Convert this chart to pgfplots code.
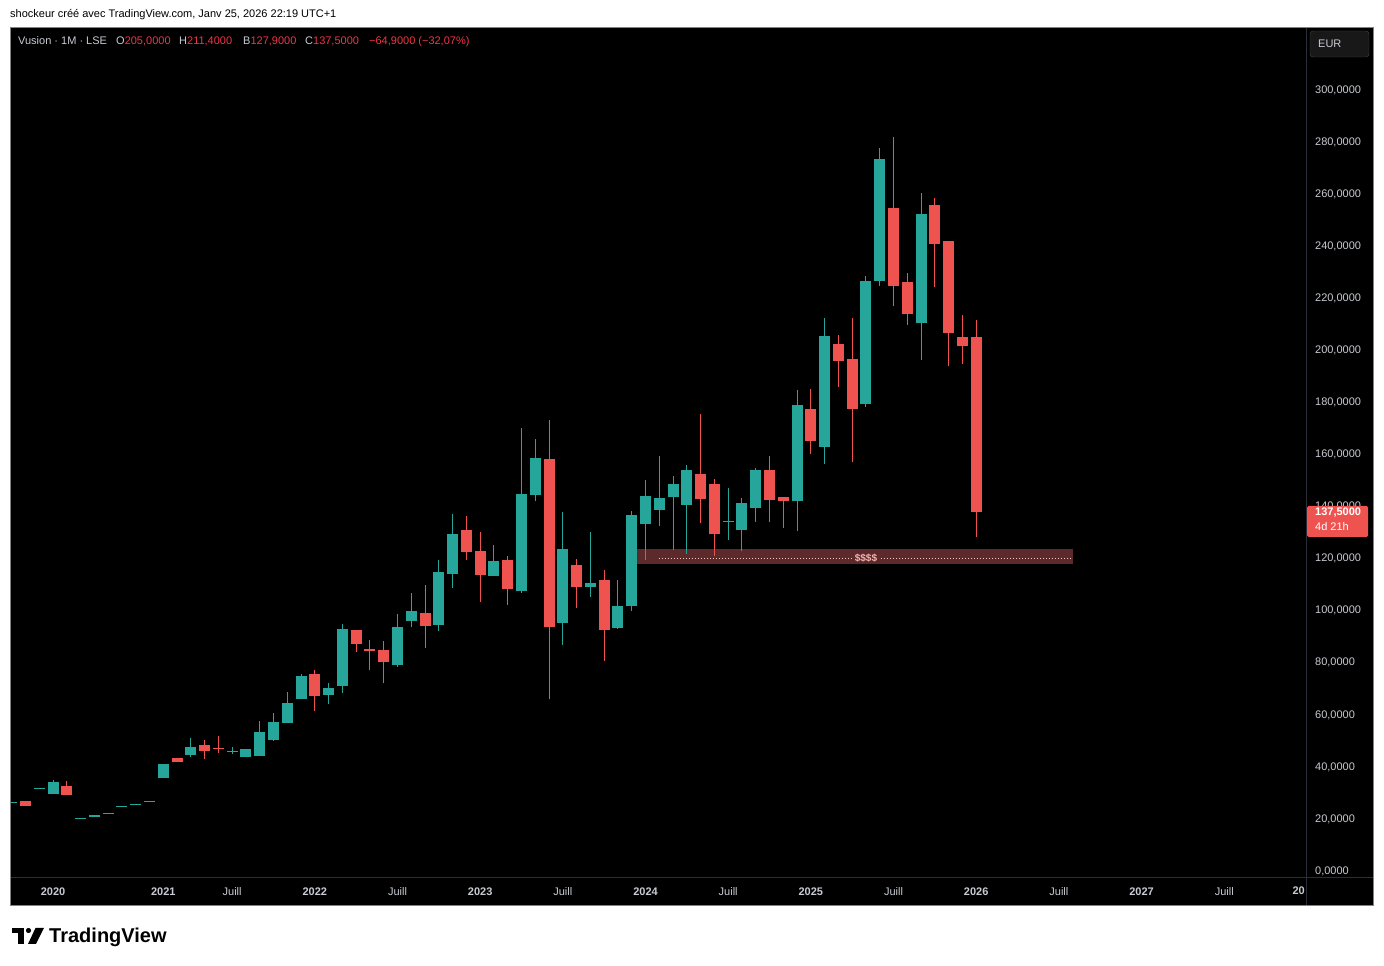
\documentclass[border=0pt]{standalone}
\usepackage{pgfplots}
\pgfplotsset{compat=1.18}
\usepackage{pgfplotstable}
\usepackage{fontspec}
\setmainfont{Liberation Sans}
\definecolor{tvgreen}{RGB}{38,166,154}
\definecolor{tvred}{RGB}{239,83,80}
\definecolor{hdrred}{RGB}{242,54,69}
\definecolor{axtext}{RGB}{200,203,210}
\definecolor{sepcol}{RGB}{42,46,57}
\definecolor{bandcol}{RGB}{92,42,42}
\definecolor{bandtext}{RGB}{245,180,180}
\definecolor{framecol}{RGB}{130,130,130}

\pgfplotstableread{
k o h l c
0 25.8 26.3 25.8 26.3
2 31.2 31.7 31.2 31.7
3 29.2 34.6 29.2 33.8
5 19.7 20.1 19.7 20.1
6 20.3 21.0 20.3 21.0
7 21.6 22.0 21.6 22.0
8 24.3 24.7 24.3 24.7
9 25.0 25.4 25.0 25.4
10 26.2 26.6 26.2 26.6
11 35.3 40.7 35.3 40.7
13 44.2 50.7 43.5 47.2
16 45.4 47.2 44.6 45.8
17 43.4 46.5 43.4 46.5
18 43.8 57.2 43.8 53.0
19 50.1 60.3 49.7 56.9
20 56.6 68.4 56.6 64.1
21 65.8 75.3 65.8 74.5
23 67.2 71.8 63.9 69.9
24 70.8 94.5 68.1 92.6
28 78.7 98.3 78.0 93.3
29 95.6 106.4 93.3 99.5
31 94.1 119.1 91.8 114.5
32 113.7 136.8 108.3 129.1
35 112.9 124.8 112.9 118.7
37 107.2 169.8 106.4 144.4
38 144.1 165.6 141.7 158.3
40 94.9 137.5 86.4 123.3
42 108.7 129.8 104.9 110.2
44 93.0 111.4 92.6 101.4
45 101.4 137.9 99.5 136.4
46 132.9 149.8 119.1 143.7
47 138.3 159.0 132.1 142.9
48 143.3 151.3 122.9 148.3
49 140.2 155.6 121.4 153.6
52 133.6 146.7 126.8 134.2
53 130.6 142.9 122.5 141.0
54 139.1 154.4 133.7 153.6
57 141.7 184.4 130.2 178.6
59 162.5 212.0 156.0 205.1
62 179.0 228.2 177.9 226.3
63 226.3 277.4 224.3 273.1
66 210.1 260.1 195.9 252.0
}\upT

\pgfplotstableread{
k o h l c
1 26.5 26.5 24.7 24.7
4 32.3 34.2 28.8 28.8
12 43.0 43.0 41.5 41.5
14 48.0 49.9 42.6 45.7
15 46.9 51.5 45.1 46.5
22 75.3 76.8 61.2 66.9
25 92.2 92.2 83.7 86.8
26 84.8 88.4 76.8 84.3
27 84.5 88.0 71.8 79.9
30 98.7 109.5 85.3 93.7
33 130.6 136.0 119.1 122.2
34 122.5 129.8 102.9 113.3
36 119.1 120.6 101.8 107.9
39 157.9 172.9 65.7 93.3
41 117.2 119.5 100.6 108.7
43 111.4 115.2 80.3 92.2
50 152.1 175.2 133.3 142.5
51 148.3 150.2 120.6 129.1
55 153.6 159.0 133.7 142.1
56 143.3 143.3 131.4 141.7
58 177.1 184.8 159.8 164.8
60 202.1 205.5 185.5 195.5
61 196.3 212.0 156.7 177.1
64 254.3 281.6 216.7 224.3
65 225.9 229.3 209.4 213.6
67 255.5 258.2 224.0 240.5
68 241.6 241.6 193.6 206.3
69 204.7 213.2 194.4 201.3
70 205.0 211.4 127.9 137.5
}\downT

\begin{document}
\begin{tikzpicture}[x=1pt,y=1pt]
% page
\fill[white] (0,0) rectangle (1384,966);
% header above chart
\node[anchor=base west, inner sep=0pt, font=\fontsize{11}{13}\selectfont, text=black] at (10,948) {shockeur créé avec TradingView.com, Janv 25, 2026 22:19 UTC+1};
% chart panel
\fill[black] (10,60) rectangle (1374,939);
\draw[sepcol, line width=1pt] (10,88) -- (1374,88);
\draw[sepcol, line width=1pt] (1306,60) -- (1306,939);

\begin{axis}[
  at={(11pt,88pt)}, anchor=south west,
  scale only axis, width=1295pt, height=850pt,
  xmin=-0.05, xmax=93.93, ymin=-3.07, ymax=323.6,
  axis line style={draw=none},
  tick style={draw=none},
  xtick={3,11,16,22,28,34,40,46,52,58,64,70,76,82,88},
  xticklabels={\textbf{2020},\textbf{2021},Juill,\textbf{2022},Juill,\textbf{2023},Juill,\textbf{2024},Juill,\textbf{2025},Juill,\textbf{2026},Juill,\textbf{2027},Juill},
  xticklabel style={anchor=center, inner sep=0pt, yshift=-14pt, font=\fontsize{11}{13}\selectfont, text=axtext},
  ytick={0,20,...,300},
  yticklabel pos=right,
  yticklabel style={anchor=west, inner sep=0pt, xshift=9pt, yshift=-1pt, font=\fontsize{11}{13}\selectfont, text=axtext,
    /pgf/number format/.cd, fixed, fixed zerofill, precision=4, use comma, 1000 sep={}, assume math mode=true},
  scaled y ticks=false,
  candle/.style={draw=none, mark=none, forget plot,
    error bars/y dir=plus, error bars/y explicit, error bars/error mark=none},
]
% zone
\fill[bandcol] (axis cs:45.38,117.5) rectangle (axis cs:77.02,123.3);
\draw[bandtext!80!white, line width=1pt, dash pattern=on 1pt off 2pt] (axis cs:46.97,119.85) -- (axis cs:76.87,119.85);
\node[fill=bandcol, inner sep=2pt, text=bandtext, font=\fontsize{10}{12}\selectfont\bfseries] at (axis cs:62.0,119.85) {\$\$\$\$};

% wicks
\addplot[candle, error bars/error bar style={line width=1pt, draw=tvgreen}]
  table[x=k, y=l, y error plus expr=\thisrow{h}-\thisrow{l}] {\upT};
\addplot[candle, error bars/error bar style={line width=1pt, draw=tvred}]
  table[x=k, y=l, y error plus expr=\thisrow{h}-\thisrow{l}] {\downT};
% bodies
\addplot[candle, error bars/error bar style={line width=11pt, draw=tvgreen}]
  table[x=k, y=o, y error plus expr=\thisrow{c}-\thisrow{o}] {\upT};
\addplot[candle, error bars/error bar style={line width=11pt, draw=tvred}]
  table[x=k, y=c, y error plus expr=\thisrow{o}-\thisrow{c}] {\downT};
\end{axis}

% clipped 2028 label
\node[anchor=east, inner sep=0pt, font=\fontsize{11}{13}\selectfont\bfseries, text=axtext] at (1305,75) {20};

% legend line in chart
\begin{scope}[every node/.style={anchor=base west, inner sep=0pt, font=\fontsize{11}{13}\selectfont, text=axtext}]
\node at (18,921) {Vusion · 1M · LSE};
\node at (116,921) {O\textcolor{hdrred}{205,0000}};
\node at (179,921) {H\textcolor{hdrred}{211,4000}};
\node at (243,921) {B\textcolor{hdrred}{127,9000}};
\node at (305,921) {C\textcolor{hdrred}{137,5000}};
\node[text=hdrred] at (369,921) {−64,9000 (−32,07\%)};
\end{scope}

% EUR button
\draw[fill={rgb,255:red,24;green,24;blue,24}, draw={rgb,255:red,70;green,70;blue,70}, rounded corners=3pt] (1310,909) rectangle (1369,935);
\node[anchor=west, inner sep=0pt, font=\fontsize{11}{13}\selectfont, text=axtext] at (1318,922) {EUR};

% last price label
\fill[tvred, rounded corners=1.5pt] (1307,429) rectangle (1368,460);
\node[anchor=west, inner sep=0pt, font=\fontsize{11}{13}\selectfont\bfseries, text=white] at (1315,453) {137,5000};
\node[anchor=west, inner sep=0pt, font=\fontsize{11}{13}\selectfont, text=white] at (1315,439) {4d 21h};

% frame
\draw[framecol, line width=1pt] (10.5,60.5) rectangle (1373.5,938.5);

% TradingView logo
\fill[black] (12,38) rectangle (24,33);
\fill[black] (18,33) rectangle (24,22);
\fill[black] (28.5,35.5) circle (2.6);
\fill[black] (35.5,38) -- (44,38) -- (36,22) -- (28,22) -- cycle;
\node[anchor=base west, inner sep=0pt, font=\fontsize{20}{24}\selectfont\bfseries, text=black] at (49,23) {TradingView};
\end{tikzpicture}
\end{document}
